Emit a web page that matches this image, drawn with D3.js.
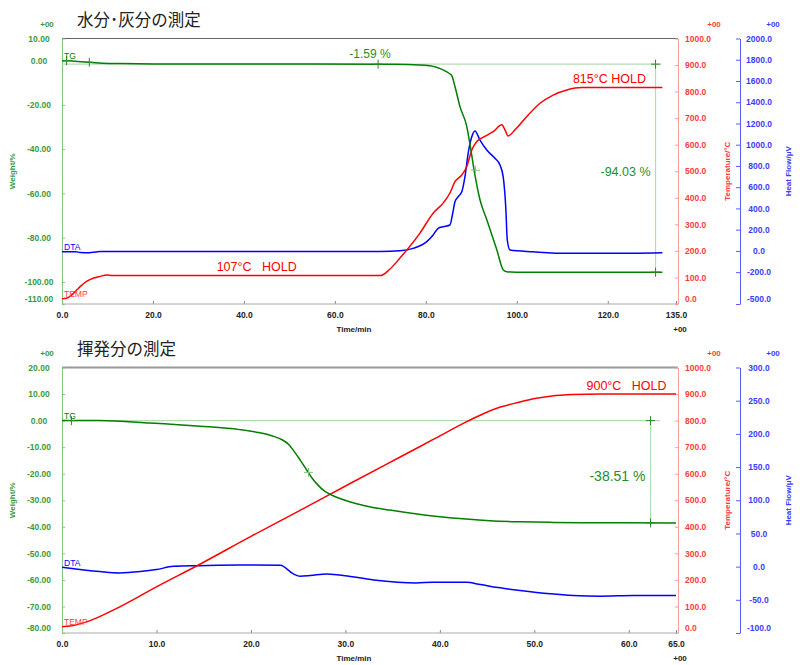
<!DOCTYPE html>
<html><head><meta charset="utf-8">
<script src="https://cdn.jsdelivr.net/npm/d3@7"></script>
<style>
body{margin:0;background:#fff;}
svg{display:block;font-family:"Liberation Sans",Arial,sans-serif;}
</style></head><body>
<svg id="c" width="800" height="665"></svg>
<script>
// ---------- Panel 1: 水分･灰分の測定 ----------
const title1 = "水分･灰分の測定";
const xTicks1 = [0, 20, 40, 60, 80, 100, 120, 135];
const weightTicks1 = [10, 0, -20, -40, -60, -80, -100, -110];
const tempTicks1 = [1000, 900, 800, 700, 600, 500, 400, 300, 200, 100, 0];
const heatTicks1 = [2000, 1800, 1600, 1400, 1200, 1000, 800, 600, 400, 200, 0, -200, -500];

const tgTime1 =   [0, 1, 3, 6, 9, 13, 20, 40, 70, 76, 80.9, 82.5, 83.8, 85, 85.7, 86.4, 87.5, 89.0, 89.9, 90.6, 91.9, 93.4, 95.6, 97.0, 97.8, 98.7, 100, 132];
const tgWeight1 = [0, 0, -0.3, -0.75, -1.15, -1.35, -1.5, -1.55, -1.6, -1.7, -2.3, -3.1, -4.2, -5.6, -6.8, -11.7, -20.8, -29.8, -40.3, -49.4, -62.9, -71.9, -85.5, -94.5, -95.4, -95.55, -95.6, -95.62];

const tempTime1 =  [0, 1, 2, 3.2, 4.3, 5.4, 7, 8.4, 9.8, 11, 70, 72, 74.3, 78.7, 81.6, 83.8, 85.3, 86.4, 87.9, 89.0, 90.1, 91.2, 93.0, 94.8, 96.7, 97.4, 98.1, 99.6, 102.2, 105.1, 108, 111, 114.3, 132];
const tempValue1 = [20, 22, 32, 52, 70, 85, 98, 104, 109, 107, 107, 130, 173, 267, 342, 380, 418, 461, 486, 518, 580, 612, 631, 649, 675, 656, 633, 656, 706, 756, 787, 806, 815, 815];

const dtaTime1 =  [0, 3, 4, 6, 7.5, 8.5, 70, 74.3, 77.2, 80.2, 81.6, 82.7, 83.8, 85.3, 85.9, 86.4, 87.1, 87.9, 88.6, 89.3, 90.1, 90.8, 91.9, 93.4, 95.2, 96.3, 97.0, 97.6, 97.9, 98.5, 103.6, 111, 119.8, 132];
const dtaValue1 = [-8, -8, -15, -17, -10, -6, -5, 2, 24, 87, 150, 213, 228, 244, 354, 463, 510, 557, 699, 919, 1075, 1129, 1044, 950, 872, 809, 699, 385, 103, 8, -8, -23, -23, -17];

const markTime1 =   [1, 6, 69.5, 130.5, 130.5];
const markWeight1 = [0, -0.75, -1.59, -1.59, -95.62];
const midMarkTime1 = [90.9];
const midMarkWeight1 = [-49.5];
const stepRef1 = -1.59, stepEnd1 = -95.62, stepTime1 = 130.5, refLineEnd1 = 131.8;
const stepLabel1 = "-94.03 %";
const firstStepLabel1 = "-1.59 %";
const firstStepTime1 = 67.7;
const holdLabels1 = ["107°C   HOLD", "815°C HOLD"];
const holdTemps1 = [107, 815];
const holdTimes1 = [34, 128.4];

// ---------- Panel 2: 揮発分の測定 ----------
const title2 = "揮発分の測定";
const xTicks2 = [0, 10, 20, 30, 40, 50, 60, 65];
const weightTicks2 = [20, 10, 0, -10, -20, -30, -40, -50, -60, -70, -80];
const tempTicks2 = [1000, 900, 800, 700, 600, 500, 400, 300, 200, 100, 0];
const heatTicks2 = [300, 250, 200, 150, 100, 50, 0, -50, -100];

const tgTime2 =   [0, 4, 9.3, 14.6, 18.8, 20.8, 22.2, 23.4, 24.0, 24.5, 25.2, 25.9, 26.5, 27.1, 27.8, 28.7, 29.8, 31.2, 32.8, 34.7, 37, 40, 42.8, 45.3, 48.5, 52, 56, 65];
const tgWeight2 = [0, 0, -0.9, -2.1, -3.4, -4.5, -5.7, -7.4, -9.0, -11.2, -14.8, -18.6, -21.8, -24.3, -26.6, -28.3, -29.8, -31.3, -32.6, -33.7, -34.9, -36.2, -37.1, -37.7, -38.1, -38.35, -38.45, -38.55];

const tempTime2 =  [0, 0.85, 2.6, 5.8, 10, 14.6, 19.9, 25.2, 30.5, 35.8, 39.3, 42.8, 44.6, 46.4, 48.5, 49.9, 51.7, 54.1, 57, 65];
const tempValue2 = [24, 26, 42, 93, 174, 259, 362, 462, 563, 663, 729, 795, 826, 851, 870, 882, 892, 898, 900, 900];

const dtaTime2 =  [0, 4, 6.1, 8.3, 10, 11.8, 14.6, 18.8, 23.1, 24.5, 25.2, 26.3, 28.0, 29.4, 33.0, 37.5, 39.3, 42.8, 44.3, 46.4, 48.5, 51.7, 54.1, 57, 60.5, 65];
const dtaValue2 = [-1, -7.5, -9.5, -7.5, -4.5, 0.5, 1.5, 2.5, 2, -11, -14.6, -13.5, -11, -12.5, -20, -24.5, -23.6, -23.6, -27, -32, -36, -41, -43.5, -44.5, -43.5, -43.5];

const markTime2 =   [1, 62.3, 62.3];
const markWeight2 = [0, 0, -38.51];
const midMarkTime2 = [26.1];
const midMarkWeight2 = [-19.5];
const stepRef2 = 0, stepEnd2 = -38.51, stepTime2 = 62.3, refLineEnd2 = 63.3;
const stepLabel2 = "-38.51 %";
const holdLabels2 = ["900°C   HOLD"];
const holdTemps2 = [900];
const holdTimes2 = [64.0];

// ---------- drawing ----------
const svg = d3.select("#c");
const GREEN = "#007f00", RED = "#ff0000", BLUE = "#0000ff";
const GTXT = "#3a9a3a", RTXT = "#ff3b3b", BTXT = "#3b3bff";
const LEFT = 62, RIGHT = 676, TAXIS = 678, HAXIS = 740;

function zip(a, b) { return a.map((v, i) => [v, b[i]]); }

function drawPanel(p) {
  const g = svg.append("g");
  const x = d3.scaleLinear().domain([0, p.xMax]).range([LEFT, RIGHT]);
  const yW = d3.scaleLinear().domain([d3.min(p.wTicks), d3.max(p.wTicks)]).range([p.bottom, p.top]);
  const yT = d3.scaleLinear().domain([0, 1000]).range([p.bottom, p.top]);
  const yH = d3.scaleLinear().domain([d3.min(p.hTicks), d3.max(p.hTicks)]).range([p.bottom, p.top]);

  // title
  g.append("text").attr("x", 77).attr("y", p.top - 12.5)
    .attr("font-family", "'Noto Sans CJK JP','Noto Sans CJK SC',sans-serif")
    .attr("font-size", 16.5).attr("fill", "#222").text(p.title);

  // top border
  g.append("line").attr("x1", LEFT).attr("x2", TAXIS).attr("y1", p.top).attr("y2", p.top)
    .attr("stroke", p.borderColor).attr("stroke-width", p.borderWidth);

  // x axis
  const xa = g.append("g").attr("transform", `translate(0,${p.bottom})`)
    .call(d3.axisBottom(x).tickValues(p.xTicks).tickSize(-3).tickSizeOuter(0).tickFormat(d => d.toFixed(1)));
  xa.select(".domain").remove();
  xa.selectAll(".tick line").attr("stroke", "#888");
  xa.selectAll(".tick text").attr("y", 14).attr("dy", 0).attr("fill", "#222")
    .attr("font-size", 8.5).attr("font-weight", "bold").attr("font-family", "Liberation Sans, Arial, sans-serif");
  g.append("line").attr("x1", LEFT).attr("x2", TAXIS).attr("y1", p.bottom).attr("y2", p.bottom)
    .attr("stroke", "#aaa");
  g.append("text").attr("x", 354).attr("y", p.bottom + 28).attr("text-anchor", "middle")
    .attr("font-size", 8).attr("font-weight", "bold").attr("fill", "#222").text("Time/min");
  g.append("text").attr("x", 680).attr("y", p.bottom + 28).attr("text-anchor", "middle")
    .attr("font-size", 8).attr("font-weight", "bold").attr("fill", "#222").text("+00");

  // left weight axis
  const wa = g.append("g").attr("transform", `translate(${LEFT},0)`)
    .call(d3.axisLeft(yW).tickValues(p.wTicks).tickSize(-3).tickSizeOuter(0).tickFormat(d => d.toFixed(2)));
  wa.select(".domain").attr("stroke", "#80c880");
  wa.selectAll(".tick line").attr("stroke", "#80c880");
  wa.selectAll(".tick text").attr("x", -23).attr("text-anchor", "middle").attr("fill", GTXT)
    .attr("font-size", 8.5).attr("font-weight", "bold").attr("font-family", "Liberation Sans, Arial, sans-serif")
    .attr("dy", d => d === d3.min(p.wTicks) ? "-0.25em" : "0.32em");
  g.append("text").attr("x", 47).attr("y", p.top - 11.5).attr("text-anchor", "middle")
    .attr("font-size", 8).attr("font-weight", "bold").attr("fill", GTXT).text("+00");
  g.append("text").attr("transform", `translate(15,${(p.top + p.bottom) / 2}) rotate(-90)`)
    .attr("text-anchor", "middle").attr("font-size", 8).attr("font-weight", "bold").attr("fill", GTXT).text("Weight/%");

  // temperature axis
  const ta = g.append("g").attr("transform", `translate(${TAXIS},0)`)
    .call(d3.axisRight(yT).tickValues(p.tTicks).tickSize(-3).tickSizeOuter(0).tickFormat(d => d.toFixed(1)));
  ta.select(".domain").attr("stroke", "#ff9c9c");
  ta.selectAll(".tick line").attr("stroke", "#ff9c9c");
  ta.selectAll(".tick text").attr("x", 7).attr("text-anchor", "start").attr("fill", RTXT)
    .attr("font-size", 8.5).attr("font-weight", "bold").attr("font-family", "Liberation Sans, Arial, sans-serif")
    .attr("dy", d => d === 0 ? "-0.25em" : "0.32em");
  g.append("text").attr("x", 714).attr("y", p.top - 11.5).attr("text-anchor", "middle")
    .attr("font-size", 8).attr("font-weight", "bold").attr("fill", RTXT).text("+00");
  g.append("text").attr("transform", `translate(730,${(p.top + p.bottom) / 2}) rotate(-90)`)
    .attr("text-anchor", "middle").attr("font-size", 8).attr("font-weight", "bold").attr("fill", RTXT).text("Temperature/°C");

  // heat flow axis
  const ha = g.append("g").attr("transform", `translate(${HAXIS},0)`)
    .call(d3.axisRight(yH).tickValues(p.hTicks).tickSize(-4).tickSizeOuter(0).tickFormat(d => d.toFixed(1)));
  ha.select(".domain").attr("stroke", "#5a5aff");
  ha.selectAll(".tick line").attr("stroke", "#5a5aff");
  ha.selectAll(".tick text").attr("x", 19).attr("text-anchor", "middle").attr("fill", BTXT)
    .attr("font-size", 8.5).attr("font-weight", "bold").attr("font-family", "Liberation Sans, Arial, sans-serif")
    .attr("dy", d => d === d3.min(p.hTicks) ? "-0.25em" : "0.32em");
  g.append("text").attr("x", 773).attr("y", p.top - 11.5).attr("text-anchor", "middle")
    .attr("font-size", 8).attr("font-weight", "bold").attr("fill", BTXT).text("+00");
  g.append("text").attr("transform", `translate(791,${(p.top + p.bottom) / 2}) rotate(-90)`)
    .attr("text-anchor", "middle").attr("font-size", 8).attr("font-weight", "bold").attr("fill", BTXT).text("Heat Flow/μV");

  // measurement lines (light green)
  const LG = "#b4dcb4";
  g.append("line").attr("x1", x(0)).attr("x2", x(p.refLineEnd)).attr("y1", yW(p.stepRef)).attr("y2", yW(p.stepRef))
    .attr("stroke", LG).attr("stroke-width", 1.2);
  g.append("line").attr("x1", x(p.stepTime)).attr("x2", x(p.stepTime)).attr("y1", yW(p.stepRef)).attr("y2", yW(p.stepEnd))
    .attr("stroke", LG).attr("stroke-width", 1.2);

  // curves
  const lineW = d3.line().x(d => x(d[0])).y(d => yW(d[1])).curve(d3.curveMonotoneX);
  const lineT = d3.line().x(d => x(d[0])).y(d => yT(d[1])).curve(d3.curveMonotoneX);
  const lineH = d3.line().x(d => x(d[0])).y(d => yH(d[1])).curve(d3.curveMonotoneX);
  g.append("path").attr("d", lineH(zip(p.dtaT, p.dtaV))).attr("fill", "none").attr("stroke", BLUE).attr("stroke-width", 1.5);
  g.append("path").attr("d", lineT(zip(p.tempT, p.tempV))).attr("fill", "none").attr("stroke", RED).attr("stroke-width", 1.5);
  g.append("path").attr("d", lineW(zip(p.tgT, p.tgW))).attr("fill", "none").attr("stroke", GREEN).attr("stroke-width", 1.5);

  // + markers
  function crosses(marks, color) {
    const mg = g.append("g").attr("stroke", color).attr("stroke-width", 1);
    mg.selectAll("line.h").data(marks).join("line").attr("class", "h")
      .attr("x1", d => x(d[0]) - 4.5).attr("x2", d => x(d[0]) + 4.5).attr("y1", d => yW(d[1])).attr("y2", d => yW(d[1]));
    mg.selectAll("line.v").data(marks).join("line").attr("class", "v")
      .attr("x1", d => x(d[0])).attr("x2", d => x(d[0])).attr("y1", d => yW(d[1]) - 4.5).attr("y2", d => yW(d[1]) + 4.5);
  }
  crosses(zip(p.markT, p.markW), "#2a8a2a");
  crosses(zip(p.midT, p.midW), "#7cc27c");

  // curve labels
  g.append("text").attr("x", 64).attr("y", yW(p.tgW[0]) - 2).attr("font-size", 8.5).attr("fill", GREEN).text("TG");
  g.append("text").attr("x", 64).attr("y", yH(p.dtaV[0]) - 1.5).attr("font-size", 8.5).attr("fill", BLUE).text("DTA");
  g.append("text").attr("x", 64).attr("y", yT(p.tempV[0]) - 1.5).attr("font-size", 8.5).attr("fill", "#ff4040").text("TEMP");

  // step label
  g.append("text").attr("x", x(p.stepTime) - 5).attr("y", (yW(p.stepRef) + yW(p.stepEnd)) / 2 + p.stepDy)
    .attr("text-anchor", "end").attr("font-size", p.stepSize).attr("fill", "#1f8f1f").text(p.stepLabel);
  if (p.firstStepLabel) {
    g.append("text").attr("x", x(p.firstStepTime)).attr("y", yW(p.stepRef) - 6).attr("text-anchor", "middle")
      .attr("font-size", 12).attr("fill", "#1f8f1f").text(p.firstStepLabel);
  }
  // hold labels
  p.holdLabels.forEach((t, i) => {
    g.append("text").attr("x", x(p.holdTimes[i])).attr("y", yT(p.holdTemps[i]) - 4.2)
      .attr("text-anchor", p.holdAnchors[i]).attr("font-size", 12.5).attr("fill", RED)
      .style("white-space", "pre").text(t);
  });
}

drawPanel({
  title: title1, top: 38.5, bottom: 304, xMax: 135, xTicks: xTicks1,
  wTicks: weightTicks1, tTicks: tempTicks1, hTicks: heatTicks1,
  borderColor: "#666", borderWidth: 1,
  tgT: tgTime1, tgW: tgWeight1, tempT: tempTime1, tempV: tempValue1, dtaT: dtaTime1, dtaV: dtaValue1,
  markT: markTime1, markW: markWeight1, midT: midMarkTime1, midW: midMarkWeight1,
  stepRef: stepRef1, stepEnd: stepEnd1, stepTime: stepTime1, refLineEnd: refLineEnd1,
  stepLabel: stepLabel1, stepSize: 12.5, stepDy: 8, firstStepLabel: firstStepLabel1, firstStepTime: firstStepTime1,
  holdLabels: holdLabels1, holdTemps: holdTemps1, holdTimes: holdTimes1, holdAnchors: ["start", "end"]
});
drawPanel({
  title: title2, top: 367.5, bottom: 633, xMax: 65, xTicks: xTicks2,
  wTicks: weightTicks2, tTicks: tempTicks2, hTicks: heatTicks2,
  borderColor: "#999", borderWidth: 2,
  tgT: tgTime2, tgW: tgWeight2, tempT: tempTime2, tempV: tempValue2, dtaT: dtaTime2, dtaV: dtaValue2,
  markT: markTime2, markW: markWeight2, midT: midMarkTime2, midW: midMarkWeight2,
  stepRef: stepRef2, stepEnd: stepEnd2, stepTime: stepTime2, refLineEnd: refLineEnd2,
  stepLabel: stepLabel2, stepSize: 14, stepDy: 9, firstStepLabel: null,
  holdLabels: holdLabels2, holdTemps: holdTemps2, holdTimes: holdTimes2, holdAnchors: ["end"]
});
</script>
</body></html>
